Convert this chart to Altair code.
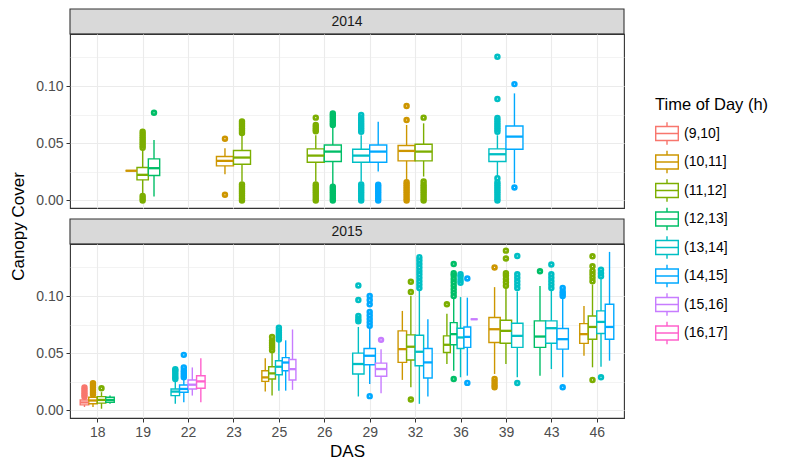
import json
import altair as alt

FONT = "Liberation Sans"

YEARS = ["2014", "2015"]
DAS = ["18", "19", "22", "23", "25", "26", "29", "32", "36", "39", "43", "46"]
HOURS = ["(9,10]", "(10,11]", "(11,12]", "(12,13]", "(13,14]", "(14,15]", "(15,16]", "(16,17]"]
COLORS = ["#F8766D", "#CD9600", "#7CAE00", "#00BE67", "#00BFC4", "#00A9FF", "#C77CFF", "#FF61CC"]

BOX_YEAR = ["2014", "2014", "2014", "2014", "2014", "2014", "2014", "2014", "2014", "2014", "2014", "2014", "2014",
            "2015", "2015", "2015", "2015", "2015", "2015", "2015", "2015", "2015", "2015", "2015", "2015",
            "2015", "2015", "2015", "2015", "2015", "2015", "2015", "2015", "2015", "2015", "2015", "2015",
            "2015", "2015", "2015", "2015", "2015", "2015", "2015", "2015", "2015", "2015", "2015"]
BOX_DAS = ["19", "19", "19", "23", "23", "26", "26", "29", "29", "32", "32", "39", "39",
           "18", "18", "18", "18", "22", "22", "22", "22", "25", "25", "25", "25", "25",
           "29", "29", "29", "32", "32", "32", "32", "36", "36", "36", "36", "36",
           "39", "39", "39", "43", "43", "43", "46", "46", "46", "46"]
BOX_HOUR = ["(10,11]", "(11,12]", "(12,13]", "(10,11]", "(11,12]", "(11,12]", "(12,13]",
            "(13,14]", "(14,15]", "(10,11]", "(11,12]", "(13,14]", "(14,15]",
            "(9,10]", "(10,11]", "(11,12]", "(12,13]",
            "(13,14]", "(14,15]", "(15,16]", "(16,17]",
            "(10,11]", "(11,12]", "(13,14]", "(14,15]", "(15,16]",
            "(13,14]", "(14,15]", "(15,16]",
            "(10,11]", "(11,12]", "(13,14]", "(14,15]",
            "(11,12]", "(12,13]", "(13,14]", "(14,15]", "(15,16]",
            "(10,11]", "(11,12]", "(13,14]",
            "(12,13]", "(13,14]", "(14,15]",
            "(10,11]", "(11,12]", "(13,14]", "(14,15]"]
LO = [0.026, 0.005, 0.0035, 0.023, 0.0166, 0.0166, 0.0137, 0.0166, 0.0253, 0.0166, 0.0209, 0.021, 0.0151,
      0.003, 0.003, 0.0015, 0.0058,
      0.0058, 0.0072, 0.013, 0.0072,
      0.0165, 0.013, 0.0173, 0.0173, 0.018,
      0.0122, 0.0232, 0.0151,
      0.0267, 0.0203, 0.0058, 0.0122,
      0.0406, 0.0348, 0.029, 0.0304, 0.0797,
      0.0319, 0.0406, 0.029,
      0.0304, 0.0362, 0.029,
      0.0478, 0.0377, 0.0383, 0.0435]
Q1 = [0.026, 0.018, 0.0218, 0.0302, 0.0317, 0.0334, 0.034, 0.0334, 0.0334, 0.0346, 0.0346, 0.034, 0.0448,
      0.0049, 0.0058, 0.0064, 0.0072,
      0.013, 0.0159, 0.0188, 0.0194,
      0.0254, 0.0275, 0.0312, 0.0347, 0.0266,
      0.0319, 0.040, 0.0299,
      0.042, 0.0441, 0.0391, 0.0284,
      0.0507, 0.0574, 0.0542, 0.0551, 0.0797,
      0.0594, 0.0588, 0.0551,
      0.0551, 0.0588, 0.0536,
      0.0586, 0.0623, 0.0672, 0.0623]
MED = [0.026, 0.0224, 0.0282, 0.0346, 0.0375, 0.0392, 0.0427, 0.0392, 0.0427, 0.0433, 0.0427, 0.0404, 0.0558,
       0.007, 0.0087, 0.0092, 0.0092,
       0.0165, 0.0188, 0.0225, 0.0254,
       0.0289, 0.0324, 0.0382, 0.0419, 0.0361,
       0.0406, 0.0478, 0.0362,
       0.0536, 0.0557, 0.0513, 0.042,
       0.0574, 0.0667, 0.0638, 0.0643, 0.0797,
       0.071, 0.0696, 0.0652,
       0.0646, 0.0719, 0.0623,
       0.0667, 0.073, 0.0774, 0.073]
Q3 = [0.026, 0.0288, 0.0363, 0.0384, 0.0436, 0.0451, 0.0485, 0.0448, 0.0485, 0.048, 0.0491, 0.0451, 0.0651,
      0.0092, 0.0116, 0.0121, 0.0116,
      0.0188, 0.0223, 0.0266, 0.0303,
      0.0347, 0.0382, 0.0434, 0.0462, 0.0445,
      0.0501, 0.0542, 0.0414,
      0.0696, 0.0661, 0.0658, 0.0542,
      0.0652, 0.0768, 0.0719, 0.073, 0.0797,
      0.0812, 0.0788, 0.0762,
      0.0783, 0.0783, 0.0716,
      0.0759, 0.0826, 0.087, 0.0928]
HI = [0.026, 0.044, 0.0529, 0.0456, 0.057, 0.057, 0.0645, 0.057, 0.0689, 0.066, 0.0674, 0.057, 0.0936,
      0.0116, 0.013, 0.016, 0.013,
      0.026, 0.028, 0.0376, 0.0457,
      0.0457, 0.052, 0.0607, 0.0613, 0.0708,
      0.073, 0.072, 0.0536,
      0.087, 0.100, 0.1058, 0.0797,
      0.0846, 0.0986, 0.0991, 0.0986, 0.0797,
      0.1078, 0.107, 0.104,
      0.1087, 0.1058, 0.0986,
      0.0913, 0.110, 0.116, 0.1386]
OUTLIERS = [
    [],
    [0.046, 0.048, 0.050, 0.052, 0.054, 0.056, 0.058, 0.060, 0.0, 0.002, 0.004],
    [0.0767],
    [0.054, 0.005],
    [0.059, 0.061, 0.063, 0.065, 0.067, 0.069, 0.0, 0.002, 0.004, 0.006, 0.008, 0.010, 0.012, 0.014],
    [0.0605, 0.062, 0.064, 0.066, 0.0724, 0.0, 0.002, 0.004, 0.006, 0.008, 0.010, 0.012, 0.014],
    [0.066, 0.068, 0.070, 0.072, 0.074, 0.076, 0.0, 0.002, 0.004, 0.006, 0.008, 0.010, 0.012],
    [0.060, 0.062, 0.064, 0.066, 0.068, 0.070, 0.072, 0.0747, 0.0, 0.002, 0.004, 0.006, 0.008, 0.010, 0.012, 0.014],
    [0.0, 0.002, 0.004, 0.006, 0.008, 0.010, 0.012, 0.0137],
    [0.0826, 0.0703, 0.0, 0.002, 0.004, 0.006, 0.008, 0.010, 0.012, 0.014, 0.016],
    [0.0724, 0.0, 0.002, 0.004, 0.006, 0.008, 0.010, 0.012, 0.014, 0.0166],
    [0.1256, 0.0887, 0.060, 0.062, 0.064, 0.066, 0.068, 0.070, 0.072,
     0.0, 0.002, 0.004, 0.006, 0.008, 0.010, 0.012, 0.014, 0.016, 0.0195],
    [0.1017, 0.0113],
    [0.012, 0.014, 0.016, 0.018, 0.020],
    [0.014, 0.016, 0.018, 0.020, 0.022, 0.0237],
    [0.0194],
    [],
    [0.0275, 0.029, 0.031, 0.033, 0.035, 0.0361],
    [0.029, 0.031, 0.033, 0.035, 0.0376, 0.0486],
    [],
    [],
    [],
    [0.0526, 0.055, 0.057, 0.059, 0.061, 0.0642],
    [0.0621, 0.064, 0.066, 0.068, 0.070, 0.0723],
    [],
    [],
    [0.1093, 0.0965, 0.078, 0.080, 0.0826],
    [0.074, 0.077, 0.080, 0.083, 0.086, 0.0928, 0.0965, 0.100, 0.0125],
    [0.0617],
    [],
    [0.1125, 0.1035, 0.0096],
    [0.107, 0.110, 0.113, 0.116, 0.119, 0.122, 0.125, 0.128, 0.131, 0.134],
    [],
    [0.0928],
    [0.100, 0.103, 0.106, 0.109, 0.112, 0.115, 0.118, 0.120, 0.128, 0.0275],
    [0.1116, 0.114, 0.117, 0.119],
    [0.1154, 0.0241],
    [],
    [0.125, 0.0203, 0.0225, 0.025, 0.0275],
    [0.1397, 0.1328, 0.109, 0.112, 0.115, 0.118, 0.120],
    [0.135, 0.107, 0.110, 0.113, 0.116, 0.119, 0.024],
    [0.1217],
    [0.1275, 0.107, 0.110, 0.113, 0.116, 0.119],
    [0.100, 0.102, 0.104, 0.107, 0.0203],
    [],
    [0.1348, 0.113, 0.116, 0.119, 0.122, 0.126, 0.0267],
    [0.1174, 0.120, 0.123, 0.029],
    [],
]

rows = [
    {"year": y, "das": d, "hour": h, "lo": lo, "q1": a, "med": m, "q3": b, "hi": hi, "out": o}
    for y, d, h, lo, a, m, b, hi, o in zip(BOX_YEAR, BOX_DAS, BOX_HOUR, LO, Q1, MED, Q3, HI, OUTLIERS)
]
source = alt.Data(values=rows)

PW, PH = 554, 174
STRIP_H = 25
GAP = 11
das_js = json.dumps(DAS)
hours_js = json.dumps(HOURS)
minor_test = "abs(datum.value * 20 - round(datum.value * 20)) > 0.01"

LEGEND = alt.Legend(
    title="Time of Day (h)", orient="none", legendX=585, legendY=88,
    symbolType="M-1,-0.62H1V0.62H-1Z M-1,0H1 M0,-0.62V-1 M0,0.62V1",
    symbolSize=510, symbolStrokeWidth=1.4, symbolFillColor="white",
    labelFontSize=14, labelColor="#000000", labelFont=FONT, labelOffset=5,
    titleFontSize=16.5, titleFontWeight="normal", titleColor="#000000", titleFont=FONT,
    titlePadding=8, rowPadding=-1.5, padding=0,
)
COLOR_SCALE = alt.Scale(domain=HOURS, range=COLORS)


def panel(year, bottom):
    xscale = alt.Scale(domain=[-0.6, 11.6], nice=False, zero=False)
    yscale = alt.Scale(domain=[-0.0066, 0.1455], nice=False, zero=False)
    if bottom:
        xaxis = alt.Axis(values=list(range(len(DAS))), labelExpr=f"{das_js}[datum.value]",
                         title="DAS", grid=True, gridColor="#EBEBEB", gridWidth=1.1,
                         domain=False, tickColor="#333333", tickSize=4, labelPadding=3,
                         labelFontSize=14, labelColor="#4D4D4D", labelFont=FONT,
                         titleFontSize=17, titleFontWeight="normal", titleColor="#000000",
                         titleFont=FONT, titlePadding=4)
    else:
        xaxis = alt.Axis(values=list(range(len(DAS))), labels=False, ticks=False, title=None,
                         grid=True, gridColor="#EBEBEB", gridWidth=1.1, domain=False,
                         minExtent=0)
    yaxis_kwargs = dict(
        values=[0, 0.025, 0.05, 0.075, 0.1, 0.125],
        labelExpr=f"{minor_test} ? '' : format(datum.value, '.2f')",
        tickColor={"condition": {"test": minor_test, "value": "transparent"}, "value": "#333333"},
        gridWidth={"condition": {"test": minor_test, "value": 0.6}, "value": 1.1},
        gridColor="#EBEBEB", domain=False, tickSize=4, labelPadding=3,
        labelFontSize=14, labelColor="#4D4D4D", labelFont=FONT,
    )
    if bottom:
        yaxis = alt.Axis(title="Canopy Cover", titleFontSize=17, titleFontWeight="normal",
                         titleColor="#000000", titleFont=FONT, titleAngle=270,
                         titleAlign="center", titleBaseline="middle",
                         titleX=-52, titleY=-18, **yaxis_kwargs)
    else:
        yaxis = alt.Axis(title=None, **yaxis_kwargs)

    stroke = alt.Stroke("hour:N", scale=COLOR_SCALE, legend=LEGEND)

    base = (
        alt.Chart(source)
        .transform_filter(alt.datum.year == year)
        .transform_calculate(xi=f"indexof({das_js}, datum.das)",
                             hk=f"indexof({hours_js}, datum.hour)")
        .transform_joinaggregate(n="count()", groupby=["das"])
        .transform_window(rk="row_number()", groupby=["das"], sort=[alt.SortField("hk")])
        .transform_calculate(xc="datum.xi + (datum.rk - (datum.n + 1) / 2) * 0.75 / datum.n")
        .transform_calculate(xl="datum.xc - 0.375 / datum.n", xr="datum.xc + 0.375 / datum.n")
    )

    whisk = base.mark_rule(strokeWidth=1.4).encode(
        x=alt.X("xc:Q", scale=xscale, axis=xaxis),
        y=alt.Y("lo:Q", scale=yscale, axis=yaxis),
        y2="hi:Q",
        stroke=stroke,
    )
    box = base.mark_rect(fill="white", strokeWidth=1.4).encode(
        x=alt.X("xl:Q", scale=xscale, axis=xaxis),
        x2="xr:Q",
        y=alt.Y("q1:Q", scale=yscale, axis=yaxis),
        y2="q3:Q",
        stroke=stroke,
    )
    med = base.mark_rule(strokeWidth=2.3).encode(
        x=alt.X("xl:Q", scale=xscale, axis=xaxis),
        x2="xr:Q",
        y=alt.Y("med:Q", scale=yscale, axis=yaxis),
        stroke=stroke,
    )
    # outlier dots: small open circles with a thick stroke read as solid dots
    pts = base.transform_flatten(["out"]).mark_point(
        shape="circle", filled=False, size=7, strokeWidth=3.8, opacity=1
    ).encode(
        x=alt.X("xc:Q", scale=xscale, axis=xaxis),
        y=alt.Y("out:Q", scale=yscale, axis=yaxis),
        stroke=stroke,
    )
    return alt.layer(whisk, box, med, pts).properties(
        width=PW, height=PH,
        view=alt.ViewBackground(fill="white", stroke="#333333", strokeWidth=1.1),
    )


def strip(year, gap):
    # a grey facet strip; `gap` leaves white space above it (spacing between panels)
    d = alt.Data(values=[{"label": year}])
    band = alt.Chart(d).mark_rect(fill="#D9D9D9", stroke="#333333", strokeWidth=1.1).encode(
        x=alt.value(0), x2=alt.value(PW), y=alt.value(gap), y2=alt.value(gap + STRIP_H)
    )
    txt = alt.Chart(d).mark_text(
        fontSize=14, color="#1A1A1A", font=FONT, baseline="middle", align="center"
    ).encode(
        text="label:N", x=alt.value(PW / 2), y=alt.value(gap + STRIP_H / 2 + 0.5)
    )
    return alt.layer(band, txt).properties(
        width=PW, height=gap + STRIP_H,
        view=alt.ViewBackground(fill=None, stroke=None),
    )


chart = alt.vconcat(
    strip(YEARS[0], 0), panel(YEARS[0], False),
    strip(YEARS[1], GAP), panel(YEARS[1], True),
    spacing=0, bounds="flush",
).properties(padding=0).configure(font=FONT)

chart.save("out.html", embed_options={"renderer": "svg", "actions": False})
